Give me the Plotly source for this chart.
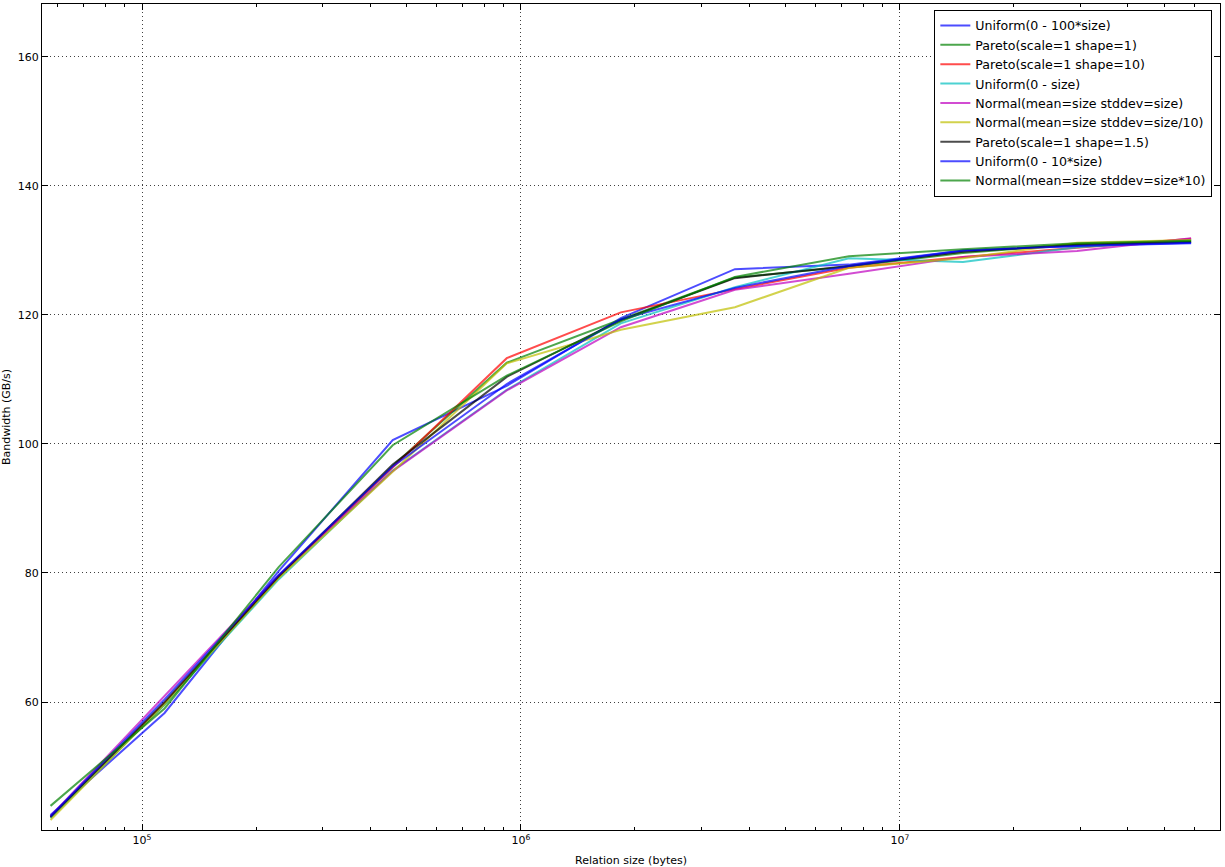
import plotly.graph_objects as go

sizes = [57344 * 2 ** k for k in range(11)]

series_names = [
    "Uniform(0 - 100*size)",
    "Pareto(scale=1 shape=1)",
    "Pareto(scale=1 shape=10)",
    "Uniform(0 - size)",
    "Normal(mean=size stddev=size)",
    "Normal(mean=size stddev=size/10)",
    "Pareto(scale=1 shape=1.5)",
    "Uniform(0 - 10*size)",
    "Normal(mean=size stddev=size*10)",
]

uniform_100 = [42.5, 58.3, 80.3, 100.6, 109.0, 119.5, 127.1, 127.8, 130.0, 130.7, 131.1]
pareto_1 = [42.1, 59.6, 79.3, 96.6, 112.6, 119.3, 125.8, 127.5, 129.6, 131.0, 131.4]
pareto_10 = [42.1, 59.8, 79.4, 96.3, 113.3, 120.4, 124.0, 127.3, 129.0, 130.4, 131.8]
uniform_1 = [42.0, 59.6, 79.0, 95.9, 108.4, 118.7, 124.3, 128.8, 128.2, 130.5, 131.6]
normal_1 = [42.3, 60.9, 79.6, 95.8, 108.3, 118.1, 123.9, 126.4, 129.0, 129.9, 131.9]
normal_01 = [41.7, 59.7, 79.2, 95.7, 112.5, 117.7, 121.2, 127.3, 128.8, 131.2, 131.6]
pareto_15 = [42.2, 60.0, 79.5, 96.8, 110.4, 119.2, 125.7, 127.6, 129.8, 130.9, 131.3]
uniform_10 = [42.3, 60.4, 79.7, 96.5, 109.3, 119.3, 124.2, 127.6, 130.0, 130.7, 131.2]
normal_10 = [43.9, 59.0, 80.9, 99.8, 110.6, 119.0, 125.9, 129.1, 130.2, 131.1, 131.5]

values = [uniform_100, pareto_1, pareto_10, uniform_1, normal_1, normal_01,
          pareto_15, uniform_10, normal_10]

colors = [
    "rgba(0,0,255,0.7)", "rgba(0,128,0,0.7)", "rgba(255,0,0,0.7)",
    "rgba(0,191,191,0.7)", "rgba(191,0,191,0.7)", "rgba(191,191,0,0.7)",
    "rgba(0,0,0,0.7)", "rgba(0,0,255,0.7)", "rgba(0,128,0,0.7)",
]

fig = go.Figure()
for name, vals, col in zip(series_names, values, colors):
    fig.add_trace(go.Scatter(x=sizes, y=vals, mode="lines", name=name,
                             line=dict(color=col, width=2)))

minor_vals = [m * 10 ** e for e in range(4, 8) for m in range(2, 10)]
grid_style = dict(showgrid=True, gridcolor="rgba(0,0,0,0.75)",
                  griddash="1px,3px", gridwidth=1)

fig.update_layout(
    width=1225, height=867,
    margin=dict(l=42, r=5, t=4, b=37, autoexpand=False),
    plot_bgcolor="white", paper_bgcolor="white",
    font=dict(family="DejaVu Sans", size=11, color="black"),
    legend=dict(x=0.9935, y=0.993, xanchor="right", yanchor="top",
                bordercolor="black", borderwidth=1, bgcolor="white",
                font=dict(size=12.6), tracegroupgap=0, itemwidth=30),
    xaxis=dict(
        type="log", range=[4.736, 7.845], automargin=False,
        tickvals=[1e5, 1e6, 1e7],
        ticktext=["10<sup>5</sup>", "10<sup>6</sup>", "10<sup>7</sup>"],
        ticks="inside", ticklen=6, tickcolor="black",
        showline=True, linecolor="black", linewidth=1, mirror="allticks",
        zeroline=False,
        minor=dict(tickvals=minor_vals, ticks="inside", ticklen=3,
                   tickcolor="black", showgrid=False),
        title=dict(text="Relation size (bytes)", font=dict(size=11)),
        **grid_style,
    ),
    yaxis=dict(
        range=[40.16, 168.2], automargin=False,
        tickvals=[60, 80, 100, 120, 140, 160],
        ticks="inside", ticklen=6, tickcolor="black",
        showline=True, linecolor="black", linewidth=1, mirror="allticks",
        zeroline=False,
        title=dict(text="Bandwidth (GB/s)", font=dict(size=11)),
        **grid_style,
    ),
)

fig.write_html(
    "out.html",
    config={"displayModeBar": False},
    post_script="document.body.style.margin='0';document.body.style.overflow='hidden';",
)
